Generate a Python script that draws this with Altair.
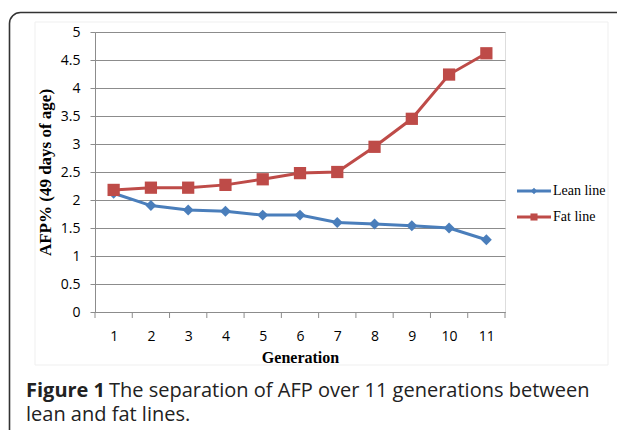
import altair as alt
import pandas as pd

generations = list(range(1, 12))
lean_values = [2.12, 1.90, 1.82, 1.80, 1.73, 1.73, 1.60, 1.57, 1.54, 1.50, 1.29]
fat_values = [2.18, 2.22, 2.22, 2.27, 2.37, 2.48, 2.50, 2.95, 3.45, 4.24, 4.62]
series_names = ["Lean line", "Fat line"]
series_colors = ["#4A7EBB", "#BE4B48"]
y_ticks = [0, 0.5, 1, 1.5, 2, 2.5, 3, 3.5, 4, 4.5, 5]
caption_bold = "Figure 1"
caption_line1 = "The separation of AFP over 11 generations between"
caption_line2 = "lean and fat lines."

W, H = 410, 280

df = pd.DataFrame({
    "Generation": generations * 2,
    "AFP": lean_values + fat_values,
    "Series": [series_names[0]] * 11 + [series_names[1]] * 11,
})
bounds = pd.DataFrame({"b": [g - 0.5 for g in generations] + [generations[-1] + 0.5]})

xscale = alt.Scale(domain=[0.5, 11.5], nice=False, zero=False)
yscale = alt.Scale(domain=[0, 5], nice=False)
cscale = alt.Scale(domain=series_names, range=series_colors)

xaxis = alt.Axis(values=generations, ticks=False, grid=False, title="Generation",
                 labelFont="Open Sans", labelFontSize=14, labelColor="#000",
                 labelPadding=17, domainColor="#8c8c8c", labelOverlap=False,
                 titleFont="Liberation Serif", titleFontSize=16, titleFontWeight="bold",
                 titleColor="#000", titlePadding=6)
yaxis = alt.Axis(values=y_ticks, grid=True, gridColor="#8c8c8c", tickCount=11,
                 labelExpr="datum.value % 1 == 0 ? format(datum.value, 'd') : format(datum.value, '.1f')",
                 tickColor="#8c8c8c", tickSize=5, domainColor="#8c8c8c",
                 labelFont="Open Sans", labelFontSize=14, labelColor="#000",
                 labelPadding=10, labelOverlap=False, labelBound=False,
                 labelFlush=False, labelSeparation=0,
                 title="AFP% (49 days of age)", titleFont="Liberation Serif",
                 titleFontSize=17, titleFontWeight="bold", titleColor="#000",
                 titlePadding=6)

X = alt.X("Generation:Q", scale=xscale, axis=xaxis)
Y = alt.Y("AFP:Q", scale=yscale, axis=yaxis)

lines = alt.Chart(df).mark_line(strokeWidth=3).encode(
    x=X, y=Y,
    color=alt.Color("Series:N", scale=cscale, legend=None),
    detail="Series:N",
)

lean_pts = alt.Chart(df[df.Series == "Lean line"]).mark_point(
    shape="diamond", filled=True, opacity=1, size=120).encode(
    x=X, y=Y, color=alt.Color("Series:N", scale=cscale, legend=None))
fat_pts = alt.Chart(df[df.Series == "Fat line"]).mark_point(
    shape="square", filled=True, opacity=1, size=150).encode(
    x=X, y=Y, color=alt.Color("Series:N", scale=cscale, legend=None))

ticks = alt.Chart(bounds).mark_rule(color="#8c8c8c", strokeWidth=1).encode(
    x=alt.X("b:Q", scale=xscale, axis=xaxis), y=alt.value(H), y2=alt.value(H + 6))

one = pd.DataFrame({"k": [0]})

frame = alt.Chart(one).mark_rect(cornerRadius=11, fillOpacity=0, stroke="#333333",
                                  strokeWidth=1.6).encode(
    x=alt.value(-85.5), x2=alt.value(560), y=alt.value(-19.5), y2=alt.value(440))
inner = alt.Chart(one).mark_rect(fillOpacity=0, stroke="#efefef", strokeWidth=1).encode(
    x=alt.value(-60), x2=alt.value(513), y=alt.value(-10), y2=alt.value(333))

leg_df = pd.DataFrame({"name": series_names, "ypos": [159, 185]})
leg_rule_lean = alt.Chart(one).mark_rule(strokeWidth=3, color=series_colors[0]).encode(
    x=alt.value(422), x2=alt.value(456), y=alt.value(159))
leg_rule_fat = alt.Chart(one).mark_rule(strokeWidth=3, color=series_colors[1]).encode(
    x=alt.value(422), x2=alt.value(456), y=alt.value(185))
leg_pt_lean = alt.Chart(one).mark_point(shape="diamond", filled=True, opacity=1, size=40,
                                        color=series_colors[0]).encode(
    x=alt.value(439), y=alt.value(159))
leg_pt_fat = alt.Chart(one).mark_point(shape="square", filled=True, opacity=1, size=50,
                                       color=series_colors[1]).encode(
    x=alt.value(439), y=alt.value(185))
leg_text = alt.Chart(leg_df).mark_text(align="left", baseline="middle", font="Liberation Serif",
                                       fontSize=14, color="#000").encode(
    text="name:N", x=alt.value(458), y=alt.Y("ypos:Q", scale=None))

cap_df = pd.DataFrame({"t": [caption_bold]})
cap_bold = alt.Chart(cap_df).mark_text(align="left", baseline="alphabetic", font="Open Sans",
                                       fontSize=20, fontWeight="bold", color="#222").encode(
    text="t:N", x=alt.value(-69), y=alt.value(365))
cap1 = alt.Chart(pd.DataFrame({"t": [caption_line1]})).mark_text(
    align="left", baseline="alphabetic", font="Open Sans", fontSize=20, color="#222").encode(
    text="t:N", x=alt.value(14), y=alt.value(365))
cap2 = alt.Chart(pd.DataFrame({"t": [caption_line2]})).mark_text(
    align="left", baseline="alphabetic", font="Open Sans", fontSize=20, color="#222").encode(
    text="t:N", x=alt.value(-69), y=alt.value(389))

chart = alt.layer(
    inner, lines, ticks, lean_pts, fat_pts, frame,
    leg_rule_lean, leg_rule_fat, leg_pt_lean, leg_pt_fat, leg_text,
    cap_bold, cap1, cap2,
).properties(
    width=W, height=H,
    autosize=alt.AutoSizeParams(type="none"),
    padding={"left": 87, "top": 24, "right": 112, "bottom": 118},
).configure_view(stroke=None).configure(background="white")

chart.save("out.html", embed_options={"renderer": "svg", "actions": False})
